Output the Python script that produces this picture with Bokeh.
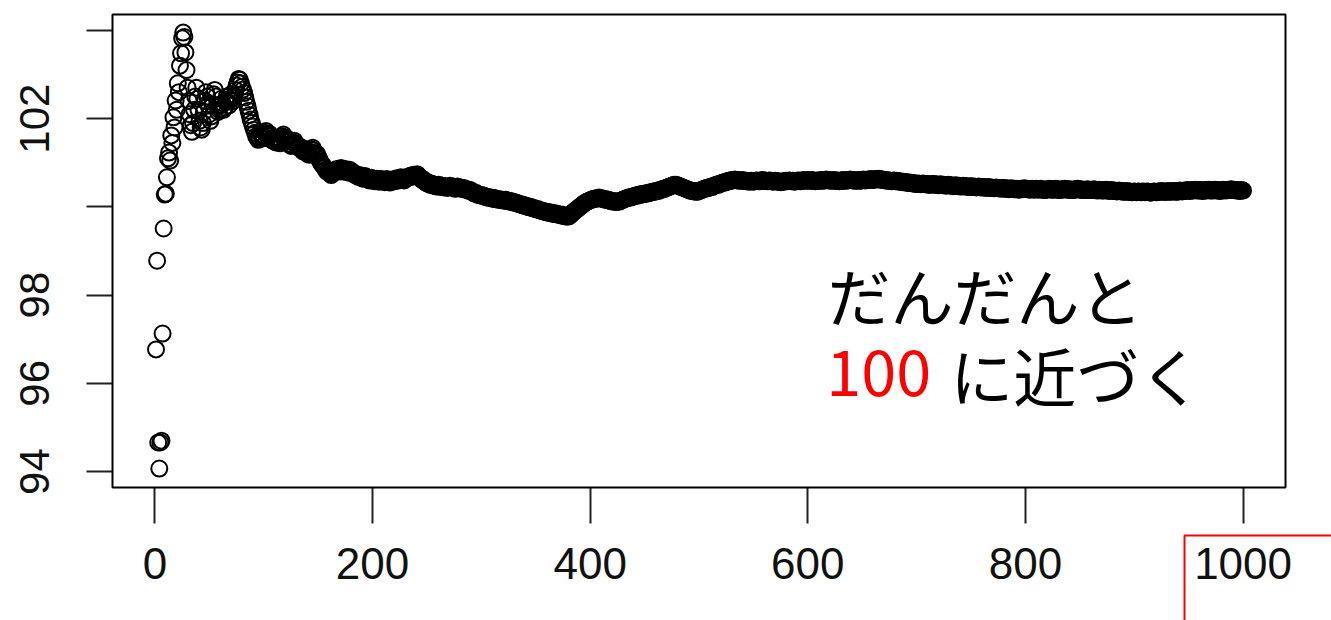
from bokeh.plotting import figure
from bokeh.models import Range1d, FixedTicker, Label, LinearAxis, BoxAnnotation
from bokeh.embed import file_html
from bokeh.resources import INLINE

x_ticks = [0, 200, 400, 600, 800, 1000]
y_ticks = [94, 96, 98, 100, 102, 104]
y_tick_labels = {94: "94", 96: "96", 98: "98", 100: "", 102: "102", 104: ""}

running_mean = [
    96.77, 98.78, 94.66, 94.07, 94.66, 94.70, 97.13, 99.51, 100.28, 100.30,
    100.67, 101.10, 101.23, 101.05, 101.62, 101.45, 102.03, 101.80, 102.41, 102.20,
    102.80, 102.60, 103.20, 103.48, 103.82, 103.95, 103.85, 103.50, 103.10, 102.70,
    102.40, 102.10, 101.85, 101.70, 101.90, 102.20, 102.50, 102.70, 102.45, 102.20,
    101.95, 101.80, 101.75, 101.90, 102.15, 102.40, 102.60, 102.50, 102.30, 102.10,
    101.95, 102.05, 102.30, 102.55, 102.65, 102.50, 102.30, 102.15, 102.20, 102.30,
    102.45, 102.35, 102.20, 102.25, 102.40, 102.50, 102.38, 102.30, 102.42, 102.55,
    102.48, 102.40, 102.52, 102.65, 102.75, 102.82, 102.90, 102.88, 102.80, 102.72,
    102.66, 102.58, 102.48, 102.38, 102.28, 102.18, 102.08, 101.98, 101.90, 101.82,
    101.75, 101.68, 101.60, 101.56, 101.52, 101.58, 101.66, 101.62, 101.55, 101.60,
    101.68, 101.72, 101.65, 101.60, 101.66, 101.62, 101.55, 101.50, 101.56, 101.52,
    101.46, 101.50, 101.55, 101.48, 101.44, 101.52, 101.60, 101.64, 101.58, 101.55,
    101.50, 101.54, 101.48, 101.42, 101.38, 101.40, 101.46, 101.50, 101.44, 101.42,
    101.36, 101.38, 101.33, 101.35, 101.30, 101.26, 101.32, 101.30, 101.24, 101.20,
    101.22, 101.18, 101.24, 101.30, 101.34, 101.28, 101.22, 101.18, 101.20, 101.14,
    101.08, 101.02, 100.98, 100.95, 100.92, 100.88, 100.84, 100.80, 100.83, 100.78,
    100.75, 100.72, 100.76, 100.80, 100.78, 100.82, 100.86, 100.84, 100.80, 100.85,
    100.88, 100.84, 100.80, 100.83, 100.86, 100.82, 100.78, 100.80, 100.84, 100.82,
    100.78, 100.75, 100.77, 100.72, 100.74, 100.70, 100.68, 100.72, 100.70, 100.67,
    100.64, 100.66, 100.70, 100.68, 100.64, 100.62, 100.60, 100.63, 100.66, 100.62,
    100.60, 100.58, 100.61, 100.64, 100.60, 100.57, 100.60, 100.63, 100.61, 100.58,
    100.56, 100.60, 100.63, 100.60, 100.57, 100.55, 100.58, 100.62, 100.60, 100.58,
    100.62, 100.65, 100.63, 100.60, 100.64, 100.67, 100.65, 100.62, 100.60, 100.63,
    100.66, 100.68, 100.66, 100.69, 100.71, 100.68, 100.70, 100.73, 100.72, 100.70,
    100.74, 100.71, 100.68, 100.66, 100.63, 100.60, 100.62, 100.58, 100.55, 100.53,
    100.55, 100.52, 100.50, 100.53, 100.50, 100.48, 100.50, 100.47, 100.46, 100.48,
    100.50, 100.47, 100.45, 100.48, 100.46, 100.44, 100.47, 100.45, 100.43, 100.46,
    100.48, 100.45, 100.44, 100.46, 100.43, 100.41, 100.44, 100.46, 100.43, 100.42,
    100.44, 100.42, 100.40, 100.43, 100.41, 100.39, 100.40, 100.37, 100.36, 100.38,
    100.35, 100.33, 100.31, 100.30, 100.32, 100.29, 100.27, 100.28, 100.26, 100.27,
    100.25, 100.26, 100.24, 100.22, 100.23, 100.21, 100.22, 100.20, 100.21, 100.19,
    100.18, 100.20, 100.19, 100.17, 100.18, 100.16, 100.17, 100.15, 100.16, 100.15,
    100.14, 100.16, 100.15, 100.13, 100.14, 100.12, 100.13, 100.11, 100.12, 100.10,
    100.09, 100.10, 100.08, 100.07, 100.06, 100.05, 100.06, 100.04, 100.03, 100.02,
    100.03, 100.01, 100.00, 99.99, 100.00, 99.98, 99.97, 99.98, 99.96, 99.95,
    99.94, 99.95, 99.93, 99.92, 99.91, 99.92, 99.90, 99.89, 99.88, 99.89,
    99.87, 99.88, 99.86, 99.87, 99.85, 99.84, 99.86, 99.84, 99.83, 99.84,
    99.82, 99.83, 99.81, 99.80, 99.82, 99.80, 99.79, 99.78, 99.79, 99.78,
    99.80, 99.82, 99.84, 99.87, 99.89, 99.91, 99.93, 99.95, 99.97, 99.99,
    100.01, 100.03, 100.05, 100.07, 100.09, 100.10, 100.12, 100.13, 100.14, 100.15,
    100.16, 100.17, 100.18, 100.19, 100.18, 100.19, 100.20, 100.21, 100.20, 100.19,
    100.18, 100.19, 100.17, 100.16, 100.17, 100.15, 100.16, 100.14, 100.13, 100.14,
    100.12, 100.13, 100.12, 100.11, 100.12, 100.13, 100.12, 100.14, 100.15, 100.16,
    100.17, 100.18, 100.19, 100.20, 100.21, 100.22, 100.21, 100.22, 100.23, 100.24,
    100.25, 100.26, 100.25, 100.27, 100.28, 100.27, 100.28, 100.29, 100.30, 100.29,
    100.30, 100.31, 100.32, 100.31, 100.32, 100.33, 100.34, 100.35, 100.34, 100.35,
    100.36, 100.37, 100.36, 100.38, 100.39, 100.40, 100.41, 100.40, 100.42, 100.43,
    100.44, 100.45, 100.46, 100.47, 100.48, 100.49, 100.50, 100.49, 100.50, 100.49,
    100.48, 100.47, 100.46, 100.45, 100.44, 100.43, 100.42, 100.41, 100.40, 100.39,
    100.38, 100.37, 100.36, 100.36, 100.35, 100.36, 100.35, 100.34, 100.35, 100.36,
    100.37, 100.38, 100.39, 100.40, 100.41, 100.42, 100.43, 100.42, 100.44, 100.45,
    100.46, 100.45, 100.47, 100.48, 100.49, 100.50, 100.51, 100.50, 100.52, 100.53,
    100.54, 100.55, 100.56, 100.55, 100.57, 100.58, 100.59, 100.58, 100.60, 100.61,
    100.60, 100.61, 100.62, 100.61, 100.60, 100.61, 100.60, 100.59, 100.60, 100.61,
    100.60, 100.59, 100.58, 100.59, 100.58, 100.57, 100.58, 100.59, 100.58, 100.57,
    100.58, 100.59, 100.60, 100.59, 100.58, 100.59, 100.60, 100.61, 100.60, 100.59,
    100.60, 100.59, 100.58, 100.59, 100.60, 100.59, 100.58, 100.57, 100.58, 100.59,
    100.58, 100.57, 100.58, 100.57, 100.56, 100.57, 100.58, 100.57, 100.58, 100.59,
    100.58, 100.59, 100.60, 100.59, 100.58, 100.59, 100.58, 100.57, 100.58, 100.59,
    100.60, 100.59, 100.58, 100.59, 100.60, 100.61, 100.60, 100.59, 100.60, 100.61,
    100.60, 100.59, 100.60, 100.61, 100.60, 100.59, 100.58, 100.59, 100.60, 100.59,
    100.60, 100.61, 100.60, 100.59, 100.60, 100.61, 100.62, 100.61, 100.60, 100.61,
    100.60, 100.59, 100.60, 100.61, 100.60, 100.59, 100.60, 100.59, 100.58, 100.59,
    100.60, 100.61, 100.60, 100.59, 100.60, 100.61, 100.60, 100.61, 100.62, 100.61,
    100.60, 100.61, 100.60, 100.59, 100.60, 100.61, 100.60, 100.59, 100.60, 100.61,
    100.62, 100.61, 100.60, 100.61, 100.62, 100.61, 100.62, 100.63, 100.62, 100.61,
    100.62, 100.63, 100.62, 100.63, 100.64, 100.63, 100.62, 100.61, 100.62, 100.61,
    100.60, 100.61, 100.60, 100.59, 100.60, 100.59, 100.58, 100.59, 100.60, 100.59,
    100.58, 100.59, 100.58, 100.57, 100.58, 100.57, 100.56, 100.57, 100.56, 100.55,
    100.56, 100.55, 100.54, 100.55, 100.54, 100.53, 100.54, 100.53, 100.52, 100.53,
    100.52, 100.53, 100.52, 100.51, 100.52, 100.53, 100.52, 100.51, 100.52, 100.51,
    100.50, 100.51, 100.50, 100.51, 100.52, 100.51, 100.50, 100.51, 100.50, 100.49,
    100.50, 100.51, 100.50, 100.49, 100.50, 100.49, 100.48, 100.49, 100.50, 100.49,
    100.48, 100.49, 100.48, 100.47, 100.48, 100.49, 100.48, 100.47, 100.48, 100.47,
    100.46, 100.47, 100.48, 100.47, 100.46, 100.47, 100.46, 100.45, 100.46, 100.47,
    100.46, 100.45, 100.46, 100.45, 100.44, 100.45, 100.46, 100.45, 100.44, 100.45,
    100.44, 100.45, 100.44, 100.43, 100.44, 100.45, 100.44, 100.43, 100.44, 100.43,
    100.42, 100.43, 100.44, 100.43, 100.42, 100.43, 100.42, 100.41, 100.42, 100.43,
    100.42, 100.41, 100.42, 100.41, 100.40, 100.41, 100.42, 100.41, 100.40, 100.41,
    100.40, 100.41, 100.40, 100.39, 100.40, 100.41, 100.40, 100.41, 100.42, 100.41,
    100.40, 100.41, 100.40, 100.39, 100.40, 100.41, 100.40, 100.39, 100.40, 100.41,
    100.40, 100.39, 100.40, 100.41, 100.40, 100.39, 100.38, 100.39, 100.40, 100.39,
    100.40, 100.41, 100.40, 100.39, 100.40, 100.39, 100.40, 100.41, 100.40, 100.39,
    100.38, 100.39, 100.40, 100.39, 100.40, 100.41, 100.40, 100.39, 100.40, 100.39,
    100.40, 100.39, 100.38, 100.39, 100.40, 100.39, 100.40, 100.41, 100.40, 100.39,
    100.40, 100.39, 100.38, 100.39, 100.38, 100.39, 100.40, 100.39, 100.38, 100.39,
    100.38, 100.39, 100.40, 100.39, 100.38, 100.37, 100.38, 100.39, 100.38, 100.37,
    100.38, 100.37, 100.38, 100.39, 100.38, 100.37, 100.36, 100.37, 100.38, 100.37,
    100.36, 100.37, 100.36, 100.35, 100.36, 100.37, 100.36, 100.35, 100.36, 100.35,
    100.34, 100.35, 100.36, 100.35, 100.34, 100.35, 100.34, 100.33, 100.34, 100.35,
    100.34, 100.33, 100.34, 100.35, 100.34, 100.33, 100.34, 100.35, 100.34, 100.33,
    100.34, 100.35, 100.34, 100.33, 100.32, 100.33, 100.34, 100.35, 100.34, 100.33,
    100.34, 100.35, 100.34, 100.35, 100.36, 100.35, 100.34, 100.35, 100.34, 100.35,
    100.36, 100.35, 100.34, 100.35, 100.36, 100.35, 100.36, 100.35, 100.34, 100.35,
    100.36, 100.37, 100.36, 100.35, 100.36, 100.37, 100.36, 100.37, 100.38, 100.37,
    100.36, 100.37, 100.38, 100.37, 100.38, 100.39, 100.38, 100.37, 100.38, 100.37,
    100.38, 100.37, 100.36, 100.37, 100.38, 100.37, 100.38, 100.39, 100.38, 100.37,
    100.38, 100.37, 100.38, 100.39, 100.38, 100.37, 100.38, 100.37, 100.36, 100.37,
    100.38, 100.39, 100.38, 100.37, 100.38, 100.39, 100.38, 100.39, 100.40, 100.39,
    100.38, 100.39, 100.38, 100.37, 100.38, 100.37, 100.36, 100.37, 100.38, 100.37,
]
trial = list(range(1, len(running_mean) + 1))

note_line1 = "だんだんと"
note_number = "100"
note_rest = "に近づく"

# plot-region limits (R style: data range + 4%)
x_lo, x_hi = -39, 1039
y_lo, y_hi = 93.64, 104.36

# the frame spans the whole canvas; the R plot box sits inside it
p = figure(width=1331, height=620, output_backend="svg", toolbar_location=None,
           title=None, x_axis_location=None, y_axis_location=None,
           x_range=Range1d(-141.93, 1081.27), y_range=Range1d(90.626, 104.677),
           min_border=0, min_border_left=0, min_border_right=0,
           min_border_top=0, min_border_bottom=0)
p.background_fill_color = "white"
p.border_fill_color = "white"
p.outline_line_color = None
p.grid.visible = False

p.scatter(trial, running_mean, marker="circle", size=16,
          fill_color=None, line_color="black", line_width=2)

xaxis = LinearAxis(fixed_location=y_lo, ticker=FixedTicker(ticks=x_ticks))
yaxis = LinearAxis(fixed_location=x_lo, ticker=FixedTicker(ticks=y_ticks),
                   major_label_overrides=y_tick_labels,
                   major_label_orientation="vertical")
for ax in (xaxis, yaxis):
    ax.axis_line_color = None
    ax.minor_tick_line_color = None
    ax.major_tick_in = 0
    ax.major_tick_line_width = 2
    ax.major_tick_line_color = "#222222"
    ax.major_label_text_font = "Liberation Sans"
    ax.major_label_text_color = "#111111"
xaxis.major_tick_out = 36
xaxis.major_label_text_font_size = "44px"
xaxis.major_label_standoff = 24
yaxis.major_tick_out = 26
yaxis.major_label_text_font_size = "42px"
yaxis.major_label_standoff = 37
p.add_layout(xaxis, "below")
p.add_layout(yaxis, "left")

# R plot box
p.add_layout(BoxAnnotation(left=x_lo, right=x_hi, bottom=y_lo, top=y_hi,
                           fill_color=None, fill_alpha=0,
                           line_color="black", line_alpha=1.0, line_width=2))

# red highlight frame around the last tick label (runs off the page edge)
p.add_layout(BoxAnnotation(left=946.2, right=1200, top=92.55, bottom=88,
                           fill_color=None, fill_alpha=0,
                           line_color="#ff0000", line_alpha=1.0, line_width=2))

p.add_layout(Label(x=618, y=98.04, text=note_line1, text_font="Noto Sans CJK JP",
                   text_font_size="63px", text_color="black", text_baseline="alphabetic"))
p.add_layout(Label(x=617, y=96.23, text=note_number, text_font="Noto Sans CJK JP",
                   text_font_size="63px", text_color="#ff0000", text_baseline="alphabetic"))
p.add_layout(Label(x=731, y=96.23, text=note_rest, text_font="Noto Sans CJK JP",
                   text_font_size="63px", text_color="black", text_baseline="alphabetic"))

open("out.html", "w").write(file_html(p, INLINE))
